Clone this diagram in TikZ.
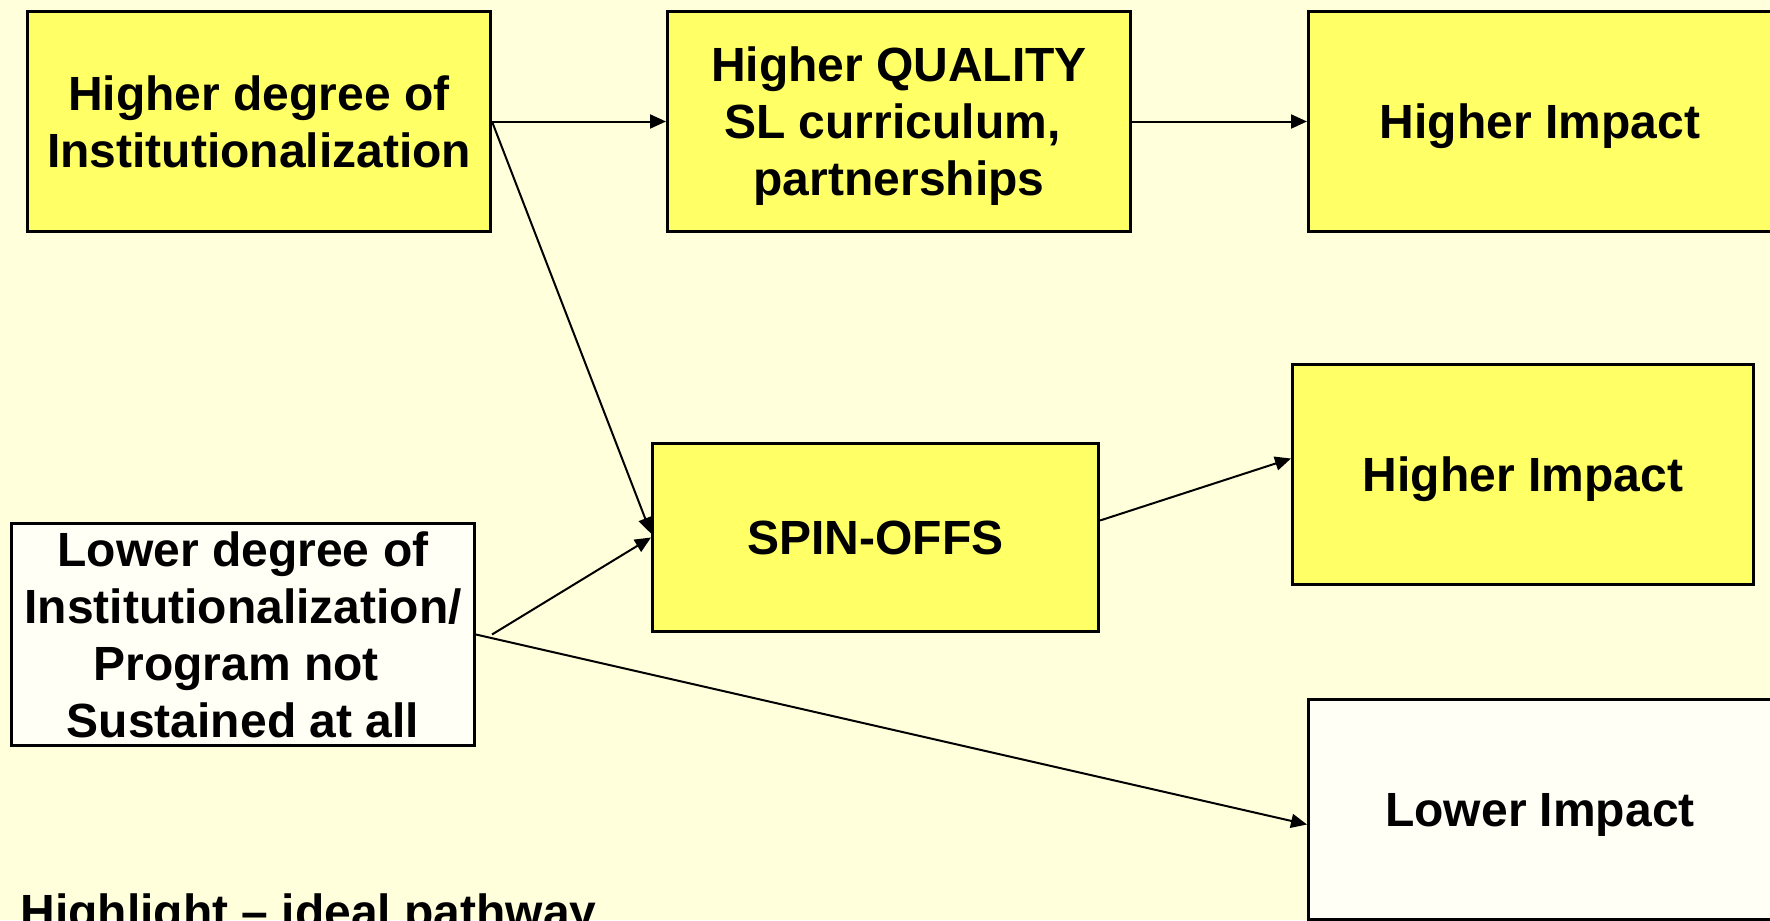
\documentclass[tikz,border=0pt]{standalone}
\usepackage{fontspec}
\setmainfont{Liberation Sans}
\usetikzlibrary{arrows.meta,calc}

\definecolor{bgcream}{RGB}{255,255,220}
\definecolor{boxyellow}{RGB}{255,255,102}
\definecolor{boxwhite}{RGB}{255,255,245}

% a line whose descenders do not count when the box text is centred
\newcommand\nodepthline[1]{\raisebox{0pt}[\height][0pt]{#1}}

\begin{document}
\begin{tikzpicture}[
  x=0.5pt, y=-0.5pt,
  every node/.style={font=\fontsize{24pt}{28.5pt}\selectfont\bfseries, align=center},
  stage/.style={draw=black, line width=1.5pt, inner sep=0pt, rectangle},
  hi/.style={stage, fill=boxyellow},
  lo/.style={stage, fill=boxwhite},
  link/.style={draw=black, line width=1pt, -{Triangle[length=8pt,width=7pt]}}
]
% page background and frame
\fill[bgcream] (0,0) rectangle (1770,920);
\useasboundingbox (0,0) rectangle (1770,920);
\clip (0,0) rectangle (1770,920);

% top row
\node[hi, minimum width=231.5pt, minimum height=110pt] (hdeg) at (259,121.5)
  {Higher degree of\\Institutionalization};
\node[hi, minimum width=231.5pt, minimum height=110pt] (qual) at (899,121.5)
  {Higher QUALITY\\SL curriculum,\kern0.278em\\\nodepthline{partnerships}};
\node[hi, minimum width=231.5pt, minimum height=110pt] (himp1) at (1540,121.5)
  {\nodepthline{Higher Impact}};

% middle row
\node[hi, minimum width=223pt, minimum height=94pt] (spin) at (875.5,537.5)
  {SPIN-OFFS};
\node[hi, minimum width=230.5pt, minimum height=110pt] (himp2) at (1523,474.5)
  {\nodepthline{Higher Impact}};

% lower pathway
\node[lo, minimum width=231.5pt, minimum height=111pt] (ldeg) at (243,634.5)
  {Lower degree of\\Institutionalization/\\Program not\kern0.278em\\Sustained at all};
\node[lo, minimum width=231.5pt, minimum height=110pt] (limp) at (1540,809.5)
  {\nodepthline{Lower Impact}};

% caption
\node[anchor=base west, inner sep=0pt] (note) at (20,928) {Highlight – ideal pathway};

% connectors
\coordinate (ldegout) at ([xshift=8pt]ldeg.east);
\draw[link] (hdeg.east) -- (qual.west);
\draw[link] (qual.east) -- (himp1.west);
\draw[link] (hdeg.east) -- ([yshift=2pt]spin.west);
\draw[link] (ldegout) -- (spin.west);
\draw[link] ([yshift=8.5pt]spin.east) -- ([yshift=8pt]himp2.west);
\draw[link] (ldeg.east) -- ([yshift=-7.5pt]limp.west);
\end{tikzpicture}
\end{document}
